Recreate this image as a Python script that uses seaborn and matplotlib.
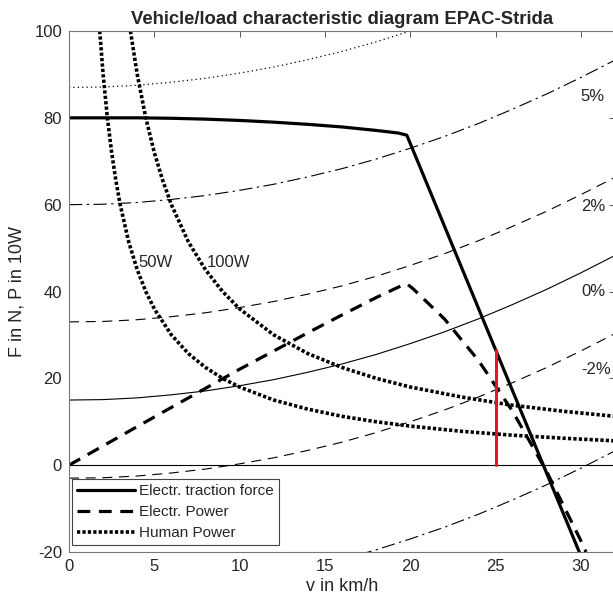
import matplotlib
matplotlib.use("Agg")
import matplotlib.pyplot as plt
import seaborn as sns
import pandas as pd

# ---------------- data ----------------
# driving resistance curves for several grades, F in N over v in km/h
v_grade = [0, 2, 4, 6, 8, 10, 12, 14, 16, 18, 20, 22, 24, 26, 28, 30, 32]
f_p8 = [87, 87.1, 87.5, 88.2, 89.1, 90.3, 91.7, 93.4, 95.3, 97.5, 100.0, 102.7, 105.7, 109.0, 112.5, 116.3, 120.3]
f_p5 = [60, 60.1, 60.5, 61.2, 62.1, 63.3, 64.7, 66.4, 68.3, 70.5, 73.0, 75.7, 78.7, 82.0, 85.5, 89.3, 93.3]
f_p2 = [33, 33.1, 33.5, 34.2, 35.1, 36.3, 37.7, 39.4, 41.3, 43.5, 46.0, 48.7, 51.7, 55.0, 58.5, 62.3, 66.3]
f_0 = [15, 15.1, 15.5, 16.2, 17.1, 18.3, 19.7, 21.4, 23.3, 25.5, 28.0, 30.7, 33.7, 37.0, 40.5, 44.3, 48.3]
f_m2 = [-3, -2.9, -2.5, -1.8, -0.9, 0.3, 1.7, 3.4, 5.3, 7.5, 10.0, 12.7, 15.7, 19.0, 22.5, 26.3, 30.3]
f_m5 = [-30, -29.9, -29.5, -28.8, -27.9, -26.7, -25.3, -23.6, -21.7, -19.5, -17.0, -14.3, -11.3, -8.0, -4.5, -0.7, 3.3]

# human power curves (force at constant power)
v_h50 = [1.8, 2.0, 2.25, 2.5, 2.75, 3.0, 3.5, 4.0, 4.5, 5, 6, 7, 8, 9, 10, 12, 14, 16, 18, 20, 23, 26, 29, 32]
f_h50 = [100, 90, 80, 72, 65.5, 60, 51.4, 45, 40, 36, 30, 25.7, 22.5, 20, 18, 15, 12.9, 11.25, 10, 9, 7.8, 6.9, 6.2, 5.6]
v_h100 = [3.6, 4.0, 4.5, 5.0, 5.5, 6.0, 7.0, 8.0, 9.0, 10, 12, 14, 16, 18, 20, 23, 26, 29, 32]
f_h100 = [100, 90, 80, 72, 65.5, 60, 51.4, 45, 40, 36, 30, 25.7, 22.5, 20, 18, 15.7, 13.8, 12.4, 11.25]

# electric drive
v_el = [0, 2, 4, 6, 8, 10, 12, 14, 16, 18, 19.3, 19.8, 20.2, 22, 24, 26, 28, 30, 30.3]
f_trac = [80, 80, 80, 79.9, 79.7, 79.4, 79.0, 78.5, 77.9, 77.1, 76.5, 76.0, 72.2, 55.1, 36.1, 17.1, -1.9, -20.9, -23.8]
p_el = [0, 4.44, 8.89, 13.3, 17.7, 22.1, 26.3, 30.5, 34.6, 38.6, 41.0, 41.8, 40.5, 33.7, 24.1, 12.4, -1.5, -17.4, -20.0]

# speed limit marker
v_limit = [25, 25]
f_limit = [0, 26.6]

grade_labels = ["5%", "2%", "0%", "-2%"]
grade_label_y = [85, 59.5, 40, 22]
power_labels = ["50W", "100W"]
power_label_x = [4.05, 8.1]

x_ticks = [0, 5, 10, 15, 20, 25, 30]
y_ticks = [-20, 0, 20, 40, 60, 80, 100]

# ---------------- drawing ----------------
sns.set_style("white")
plt.rcParams["font.family"] = ["Liberation Sans", "DejaVu Sans"]
plt.rcParams["axes.unicode_minus"] = False

fig = plt.figure(figsize=(6.13, 6.07), dpi=100)
ax = fig.add_axes([69 / 613, 55 / 607, 546 / 613, 521 / 607])

ax.axhline(0, color="black", lw=0.8, zorder=1)

thin = 0.8
def curve(x, y, **kw):
    sns.lineplot(x=x, y=y, ax=ax, estimator=None, sort=False, color="black", **kw)

curve(v_grade, f_p8, lw=0.9, linestyle=(0, (1, 2.5)))
curve(v_grade, f_p5, lw=thin, linestyle=(0, (12, 4, 2, 4)))
curve(v_grade, f_p2, lw=thin, linestyle=(0, (9, 6)))
curve(v_grade, f_0, lw=thin, linestyle="-")
curve(v_grade, f_m2, lw=thin, linestyle=(0, (9, 6)))
curve(v_grade, f_m5, lw=thin, linestyle=(0, (12, 4, 2, 4)))

curve(v_h50, f_h50, lw=2.6, linestyle=(0, (0.9, 0.6)), label="Human Power")
curve(v_h100, f_h100, lw=2.6, linestyle=(0, (0.9, 0.6)))
curve(v_el, f_trac, lw=2.3, linestyle="-", label="Electr. traction force")
curve(v_el, p_el, lw=2.3, linestyle=(0, (4, 2.7)), label="Electr. Power")

sns.lineplot(x=v_limit, y=f_limit, ax=ax, estimator=None, sort=False,
             color="#e8141e", lw=2.2)

for lab, yy in zip(grade_labels, grade_label_y):
    ax.text(30.0, yy, lab, fontsize=12, ha="left", va="center", color="#262626")
for lab, xx in zip(power_labels, power_label_x):
    ax.text(xx, 46.7, lab, fontsize=12, ha="left", va="center", color="#262626")

ax.set_xticks(x_ticks)
ax.set_yticks(y_ticks)
ax.set_xlim(0, 32)
ax.set_ylim(-20, 100)
ax.tick_params(direction="in", length=4, width=0.7, top=True, right=True,
               labelsize=12, labelcolor="#262626", color="#555555", pad=5)
for s in ax.spines.values():
    s.set_color("#777777")
    s.set_linewidth(0.8)

ax.set_xlabel("v in km/h", fontsize=13, color="#262626", labelpad=3)
ax.set_ylabel("F in N, P in 10W", fontsize=13, color="#262626", labelpad=6)
ax.set_title("Vehicle/load characteristic diagram EPAC-Strida", fontsize=13.3,
             fontweight="bold", pad=5)

handles, labels = ax.get_legend_handles_labels()
order = ["Electr. traction force", "Electr. Power", "Human Power"]
hmap = dict(zip(labels, handles))
leg = ax.legend([hmap[k] for k in order], order, loc="lower left",
                bbox_to_anchor=(0.005, 0.013), borderaxespad=0, fontsize=11,
                handlelength=3.8, handletextpad=0.25, labelspacing=0.45,
                borderpad=0.35, fancybox=False, framealpha=1)
leg.get_frame().set_edgecolor("#444444")
leg.get_frame().set_linewidth(0.8)

fig.savefig("out.png", dpi=100)
